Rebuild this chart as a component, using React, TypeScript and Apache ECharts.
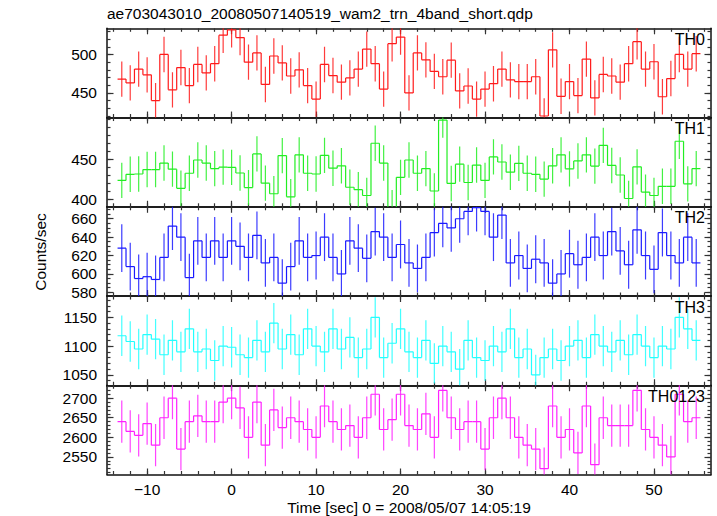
import React, { useEffect, useRef } from "react";
import * as echarts from "echarts";

// ---------- data ----------
const T_START = -13; // centre of first 1-s bin

const TH0 = [468, 463, 481, 473.5, 440, 500, 454, 483, 459.5, 487, 476, 488, 525, 532, 522, 490, 502, 461, 498, 489, 472, 480, 459.5,
  442, 487, 472.6, 464, 469.5, 481, 507, 488, 455, 514, 522.6, 450, 502, 493, 478, 471, 492.6, 452.6, 459, 442, 455, 462, 481, 467,
  464.7, 464.7, 471, 420, 506, 445.6, 464.7, 446.5, 494, 443.5, 474, 472, 464, 488, 516.6, 481, 490.5, 445, 468.7, 500, 481, 501];

const TH1 = [423.8, 431.4, 431.8, 437.3, 437.3, 445.4, 437.8, 414, 432.7, 449.2, 445.4, 438.5, 440.3, 440, 433, 414.9, 456.8, 420.4, 407.2, 454.7, 403.4, 455.6, 432.7,
  431.8, 455, 439, 442, 415.3, 412.3, 405, 470, 445.4, 390, 427.6, 449.2, 432.7, 438.5, 410.6, 498.8, 420, 444, 421.2, 442.9, 423.8, 453, 446.7, 434,
  445, 432.7, 431.4, 425.4, 442, 455.6, 438.2, 448, 455.6, 441.6, 467.4, 442.4, 430.5, 401.3, 440.7, 409.3, 405, 416.5, 416.5, 472.5, 419.5, 438.5];

const TH2 = [628, 608, 595, 597, 594, 618, 652, 640, 596, 636, 618, 636, 618, 636, 630, 618, 642, 612, 618, 590, 608, 636, 618,
  620, 640, 618, 600, 636, 628, 617, 646, 640, 618, 632, 612, 606, 618, 645, 655, 650, 660, 668, 672, 668, 640, 664, 612,
  620, 606, 616, 612, 590, 600, 622, 610, 618, 640, 620, 646, 625, 610, 648, 620, 605, 645, 620, 612, 640, 612];

const TH3 = [1118, 1108, 1095, 1120, 1112, 1085, 1110, 1090, 1130, 1090, 1095, 1075, 1100, 1098, 1085, 1080, 1110, 1090, 1140, 1095, 1120, 1085, 1130,
  1100, 1090, 1130, 1095, 1115, 1080, 1095, 1150, 1080, 1105, 1130, 1090, 1080, 1110, 1070, 1100, 1090, 1060, 1110, 1080, 1075, 1100, 1090, 1130,
  1080, 1095, 1050, 1080, 1095, 1075, 1100, 1110, 1080, 1120, 1100, 1090, 1110, 1085, 1120, 1100, 1080, 1100, 1095, 1150, 1130, 1110];

const TH0123 = [2640, 2615, 2605, 2635, 2580, 2650, 2700, 2570, 2640, 2655, 2640, 2640, 2690, 2700, 2675, 2600, 2690, 2580, 2670, 2625, 2650, 2640, 2620,
  2600, 2680, 2640, 2620, 2630, 2600, 2650, 2710, 2620, 2645, 2710, 2630, 2620, 2660, 2600, 2720, 2650, 2620, 2640, 2640, 2570, 2650, 2700, 2650,
  2600, 2580, 2570, 2520, 2680, 2600, 2620, 2560, 2680, 2530, 2650, 2630, 2630, 2630, 2720, 2620, 2600, 2580, 2550, 2710, 2640, 2650];

const PANEL_NAMES = ["TH0", "TH1", "TH2", "TH3", "TH0123"];
const PANEL_VALUES = [TH0, TH1, TH2, TH3, TH0123];
const PANEL_ERRORS = [23, 22, 26, 35, 54];
const PANEL_COLORS = ["#ff1a1a", "#22ee22", "#1a1aff", "#22ffff", "#ff22ff"];

const Y_RANGES = [[418, 534], [391, 502], [576, 673], [1032, 1187], [2505, 2733]];
const Y_MAJOR_TICKS = [[450, 500], [400, 450], [580, 600, 620, 640, 660], [1050, 1100, 1150], [2550, 2600, 2650, 2700]];
const Y_MINOR_STEP = [10, 10, 5, 10, 10];

const X_RANGE = [-14.75, 56.75];
const X_MAJOR_TICKS = [-10, 0, 10, 20, 30, 40, 50];
const X_MINOR_STEP = 2;

const TITLE = "ae703043010_20080507140519_wam2_trn_4band_short.qdp";
const X_TITLE = "Time [sec] 0 = 2008/05/07 14:05:19";
const Y_TITLE = "Counts/sec";

// ---------- layout ----------
const W = 717;
const H = 516;
const PLOT_LEFT = 107;
const PLOT_RIGHT = 711;
const PLOT_TOP = 28.3;
const PLOT_BOTTOM = 474.5;
const FONT = "'Liberation Sans', Arial, Helvetica, sans-serif";

function minorTicks(min: number, max: number, step: number): number[] {
  const out: number[] = [];
  for (let v = Math.ceil(min / step) * step; v <= max + 1e-9; v += step) out.push(+v.toFixed(6));
  return out;
}

export default function App() {
  const ref = useRef<HTMLDivElement | null>(null);

  useEffect(() => {
    if (!ref.current) return;
    const chart = echarts.init(ref.current, null, { renderer: "svg" });
    const n = PANEL_NAMES.length;
    const panelH = (PLOT_BOTTOM - PLOT_TOP) / n;

    const grids: any[] = [];
    const xAxes: any[] = [];
    const yAxes: any[] = [];
    const series: any[] = [];
    const graphics: any[] = [];

    const lineStyle = { color: "#111", width: 1.5 };
    const tickStyle = { color: "#333", width: 1.2 };
    const xMinor = minorTicks(X_RANGE[0], X_RANGE[1], X_MINOR_STEP);
    const fmt = (v: number) => (v < 0 ? "\u2212" + Math.abs(v) : String(v));

    for (let i = 0; i < n; i++) {
      const top = PLOT_TOP + i * panelH;
      grids.push({ left: PLOT_LEFT, top, width: PLOT_RIGHT - PLOT_LEFT, height: panelH, containLabel: false });
      const [ymin, ymax] = Y_RANGES[i];
      const yMinor = minorTicks(ymin, ymax, Y_MINOR_STEP[i]);

      const baseX = { type: "value", gridIndex: i, min: X_RANGE[0], max: X_RANGE[1], splitLine: { show: false } };
      xAxes.push({
        ...baseX,
        position: "bottom",
        axisLine: { show: true, onZero: false, lineStyle },
        axisTick: { show: true, inside: true, length: 6, lineStyle: tickStyle, customValues: X_MAJOR_TICKS },
        axisLabel: {
          show: i === n - 1,
          customValues: X_MAJOR_TICKS,
          margin: 7,
          fontSize: 15.5,
          fontFamily: FONT,
          color: "#000",
          formatter: fmt,
        },
      });
      xAxes.push({
        ...baseX,
        position: "bottom",
        axisLine: { show: false, onZero: false },
        axisTick: { show: true, inside: true, length: 3.5, lineStyle: tickStyle, customValues: xMinor },
        axisLabel: { show: false },
      });
      xAxes.push({
        ...baseX,
        position: "top",
        axisLine: { show: true, onZero: false, lineStyle },
        axisTick: { show: true, inside: true, length: 6, lineStyle: tickStyle, customValues: X_MAJOR_TICKS },
        axisLabel: { show: false },
      });
      xAxes.push({
        ...baseX,
        position: "top",
        axisLine: { show: false, onZero: false },
        axisTick: { show: true, inside: true, length: 3.5, lineStyle: tickStyle, customValues: xMinor },
        axisLabel: { show: false },
      });

      const baseY = { type: "value", gridIndex: i, min: ymin, max: ymax, splitLine: { show: false } };
      yAxes.push({
        ...baseY,
        position: "left",
        axisLine: { show: true, onZero: false, lineStyle },
        axisTick: { show: true, inside: true, length: 6.5, lineStyle: tickStyle, customValues: Y_MAJOR_TICKS[i] },
        axisLabel: {
          show: true,
          customValues: Y_MAJOR_TICKS[i],
          margin: 10,
          fontSize: 15.5,
          fontFamily: FONT,
          color: "#000",
          formatter: fmt,
        },
      });
      yAxes.push({
        ...baseY,
        position: "left",
        axisLine: { show: false, onZero: false },
        axisTick: { show: true, inside: true, length: 3.5, lineStyle: tickStyle, customValues: yMinor },
        axisLabel: { show: false },
      });
      yAxes.push({
        ...baseY,
        position: "right",
        axisLine: { show: true, onZero: false, lineStyle },
        axisTick: { show: true, inside: true, length: 6.5, lineStyle: tickStyle, customValues: Y_MAJOR_TICKS[i] },
        axisLabel: { show: false },
      });
      yAxes.push({
        ...baseY,
        position: "right",
        axisLine: { show: false, onZero: false },
        axisTick: { show: true, inside: true, length: 3.5, lineStyle: tickStyle, customValues: yMinor },
        axisLabel: { show: false },
      });

      const vals = PANEL_VALUES[i];
      const err = PANEL_ERRORS[i];
      const color = PANEL_COLORS[i];
      const data = vals.map((v, k) => [T_START + k, v, k > 0 ? vals[k - 1] : v, err]);
      series.push({
        type: "custom",
        name: PANEL_NAMES[i],
        xAxisIndex: i * 4,
        yAxisIndex: i * 4,
        clip: true,
        encode: { x: 0, y: 1 },
        data,
        renderItem: (params: any, api: any) => {
          const t = api.value(0);
          const v = api.value(1);
          const pv = api.value(2);
          const e = api.value(3);
          const pL = api.coord([t - 0.5, v]);
          const pR = api.coord([t + 0.5, v]);
          const pP = api.coord([t - 0.5, pv]);
          const eT = api.coord([t, v + e]);
          const eB = api.coord([t, v - e]);
          const st = { stroke: color, lineWidth: 1.2, fill: null };
          return {
            type: "group",
            children: [
              { type: "line", shape: { x1: eT[0], y1: eT[1], x2: eB[0], y2: eB[1] }, style: { ...st, opacity: 0.85 } },
              { type: "line", shape: { x1: pP[0], y1: pP[1], x2: pL[0], y2: pL[1] }, style: st },
              { type: "line", shape: { x1: pL[0], y1: pL[1], x2: pR[0], y2: pR[1] }, style: st },
            ],
          };
        },
      });

      graphics.push({
        type: "text",
        right: W - 705,
        top: top + 3,
        z: 100,
        style: { text: PANEL_NAMES[i], fontSize: 16, fontFamily: FONT, fill: "#000" },
      });
    }

    graphics.push({
      type: "text",
      left: PLOT_LEFT,
      top: 5,
      style: { text: TITLE, fontSize: 15.5, fontFamily: FONT, fill: "#000" },
    });
    graphics.push({
      type: "text",
      x: (PLOT_LEFT + PLOT_RIGHT) / 2,
      y: 507,
      style: { text: X_TITLE, fontSize: 15.5, fontFamily: FONT, fill: "#000", align: "center", verticalAlign: "middle" },
    });
    graphics.push({
      type: "text",
      x: 40,
      y: 252,
      rotation: Math.PI / 2,
      style: { text: Y_TITLE, fontSize: 15.5, fontFamily: FONT, fill: "#000", align: "center", verticalAlign: "middle" },
    });

    chart.setOption({
      animation: false,
      backgroundColor: "#fff",
      grid: grids,
      xAxis: xAxes,
      yAxis: yAxes,
      series,
      graphic: graphics,
    });

    return () => chart.dispose();
  }, []);

  return <div ref={ref} style={{ position: "absolute", left: 0, top: 0, width: W, height: H }} />;
}
